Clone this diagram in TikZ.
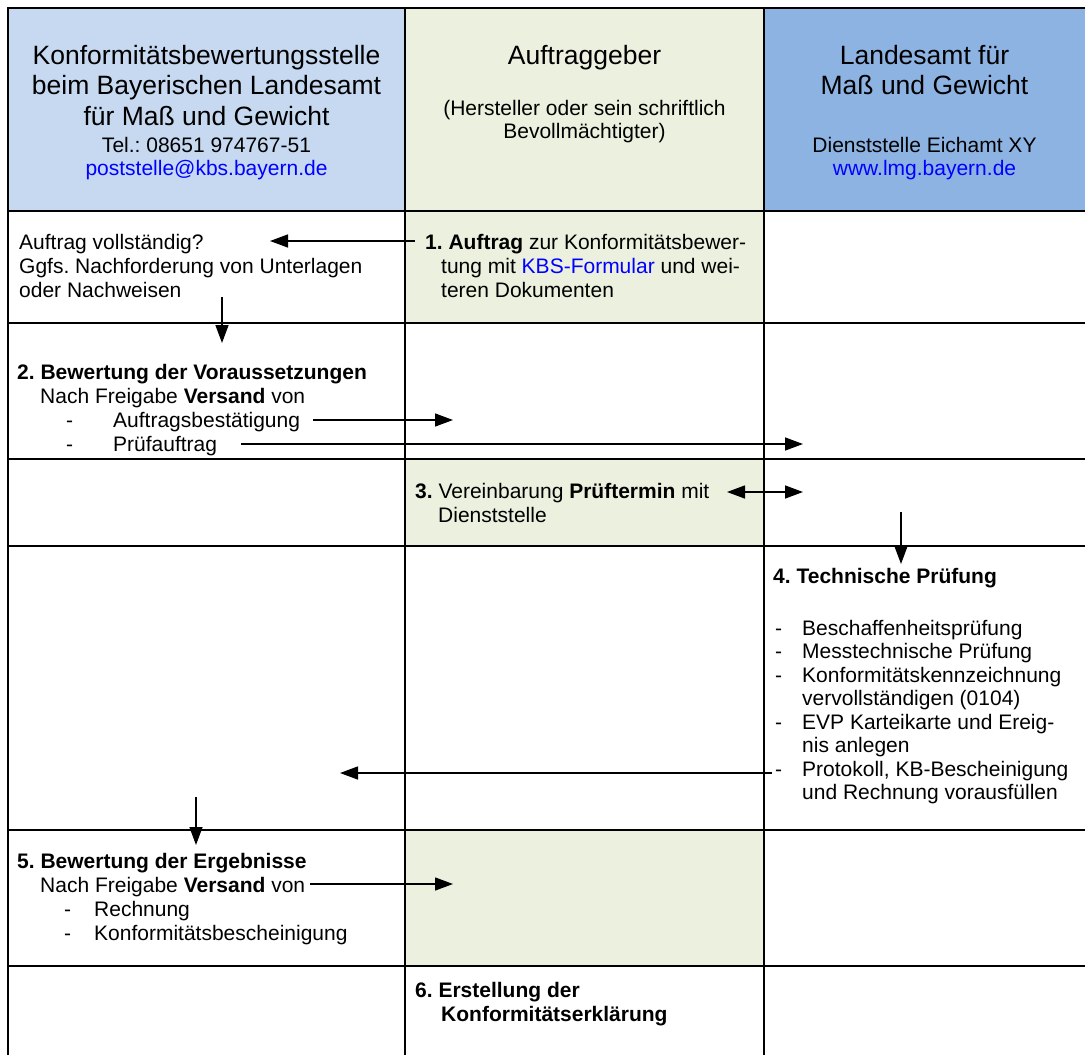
\documentclass[tikz,border=0pt]{standalone}
\usepackage{fontspec}
\setmainfont{Liberation Sans}
\usepackage{xcolor}
\usepackage{tikz}
\usetikzlibrary{arrows.meta, positioning}
\definecolor{kbscolor}{RGB}{198, 217, 240}
\definecolor{clientcolor}{RGB}{235, 241, 222}
\definecolor{lmgcolor}{RGB}{141, 179, 226}
\definecolor{linkcolor}{RGB}{0, 0, 255}
\frenchspacing

\begin{document}
\begin{tikzpicture}[x=1pt, y=-1pt,
    gridline/.style={line width=2.2pt, black},
    headbig/.style={font=\fontsize{26.5}{30.5}\selectfont, align=center, anchor=base, inner sep=0pt},
    headsmall/.style={font=\fontsize{21}{23}\selectfont, align=center, anchor=base, inner sep=0pt},
    body/.style={font=\fontsize{21}{24}\selectfont, align=left, anchor=base west, inner sep=0pt},
    flow/.style={-{Triangle[length=18pt, width=13pt]}, line width=1.4pt}]
    \useasboundingbox (0,0) rectangle (1085,1055);
    \clip (0,0) rectangle (1085,1055);
    \fill[white] (0,0) rectangle (1085,1055);

    % Column heads and shaded cells
    \fill[kbscolor] (8,8) rectangle (405,211);
    \fill[clientcolor] (405,8) rectangle (764,211);
    \fill[lmgcolor] (764,8) rectangle (1095,211);
    \fill[clientcolor] (405,211) rectangle (764,323);
    \fill[clientcolor] (405,459) rectangle (764,546);
    \fill[clientcolor] (405,830) rectangle (764,966);

    % Table rules
    \foreach \y in {8,211,323,459,546,830,966}
        \draw[gridline] (7,\y) -- (1095,\y);
    \foreach \x in {8,405,764}
        \draw[gridline] (\x,7) -- (\x,1065);

    % Header texts (placed at the baseline of their last line)
    \node[headbig] (kbs) at (206.5,125) {Konformitätsbewertungsstelle\\beim Bayerischen Landesamt\\für Maß und Gewicht};
    \node[headsmall] (kbscontact) at (206.5,175) {Tel.: 08651 974767-51\\\textcolor{linkcolor}{poststelle@kbs.bayern.de}};
    \node[headbig] (client) at (584.5,64) {Auftraggeber};
    \node[headsmall] (clientnote) at (584.5,138) {(Hersteller oder sein schriftlich\\Bevollmächtigter)};
    \node[headbig] (lmg) at (924.5,94.5) {Landesamt für\\Maß und Gewicht};
    \node[headsmall] (lmgcontact) at (924.5,175) {Dienststelle Eichamt XY\\\textcolor{linkcolor}{www.lmg.bayern.de}};

    % Step texts
    \node[body] (check) at (19,297) {Auftrag vollständig?\\Ggfs. Nachforderung von Unterlagen\\oder Nachweisen};
    \node[body] (step1) at (425,297) {\textbf{1. Auftrag} zur Konformitätsbewer-\\\hspace*{16pt}tung mit \textcolor{linkcolor}{KBS-Formular} und wei-\\\hspace*{16pt}teren Dokumenten};
    \node[body] (step2) at (17,451) {\textbf{2. Bewertung der Voraussetzungen}\\\hspace*{23pt}Nach Freigabe \textbf{Versand} von\\\hspace*{49pt}\makebox[47pt][l]{-}Auftragsbestätigung\\\hspace*{49pt}\makebox[47pt][l]{-}Prüfauftrag};
    \node[body] (step3) at (415,522) {\textbf{3.} Vereinbarung \textbf{Prüftermin} mit\\\hspace*{23pt}Dienststelle};
    \node[body] (step4) at (773,583) {\textbf{4. Technische Prüfung}};
    \node[body, font=\fontsize{21}{23.5}\selectfont] (tests) at (775,799.5) {\makebox[27pt][l]{-}Beschaffenheitsprüfung\\\makebox[27pt][l]{-}Messtechnische Prüfung\\\makebox[27pt][l]{-}Konformitätskennzeichnung\\\hspace*{27pt}vervollständigen (0104)\\\makebox[27pt][l]{-}EVP Karteikarte und Ereig-\\\hspace*{27pt}nis anlegen\\\makebox[27pt][l]{-}Protokoll, KB-Bescheinigung\\\hspace*{27pt}und Rechnung vorausfüllen};
    \node[body] (step5) at (17,940) {\textbf{5. Bewertung der Ergebnisse}\\\hspace*{23pt}Nach Freigabe \textbf{Versand} von\\\hspace*{47pt}\makebox[30pt][l]{-}Rechnung\\\hspace*{47pt}\makebox[30pt][l]{-}Konformitätsbescheinigung};
    \node[body] (step6) at (415,1021) {\textbf{6. Erstellung der}\\\hspace*{26pt}\textbf{Konformitätserklärung}};

    % Arrow ends
    \coordinate (orderout) at (415,241);
    \coordinate (orderin) at (270,241);
    \coordinate (checkout) at (222,297);
    \coordinate (evalin) at (222,343);
    \coordinate (confirmout) at (313,420);
    \coordinate (confirmin) at (453,420);
    \coordinate (testorderout) at (241,444);
    \coordinate (testorderin) at (803,444);
    \coordinate (dateclient) at (727,492);
    \coordinate (dateoffice) at (803,492);
    \coordinate (dateout) at (901,512);
    \coordinate (testin) at (901,564);
    \coordinate (reportout) at (772,773);
    \coordinate (reportin) at (340,773);
    \coordinate (resultout) at (196,797);
    \coordinate (resultin) at (196,845);
    \coordinate (billout) at (310,884);
    \coordinate (billin) at (453,884);

    % Connections
    \draw[flow] (orderout) -- (orderin);
    \draw[flow] (checkout) -- (evalin);
    \draw[flow] (confirmout) -- (confirmin);
    \draw[flow] (testorderout) -- (testorderin);
    \draw[flow, {Triangle[length=18pt, width=13pt]}-{Triangle[length=18pt, width=13pt]}] (dateclient) -- (dateoffice);
    \draw[flow] (dateout) -- (testin);
    \draw[flow] (reportout) -- (reportin);
    \draw[flow] (resultout) -- (resultin);
    \draw[flow] (billout) -- (billin);
\end{tikzpicture}
\end{document}
